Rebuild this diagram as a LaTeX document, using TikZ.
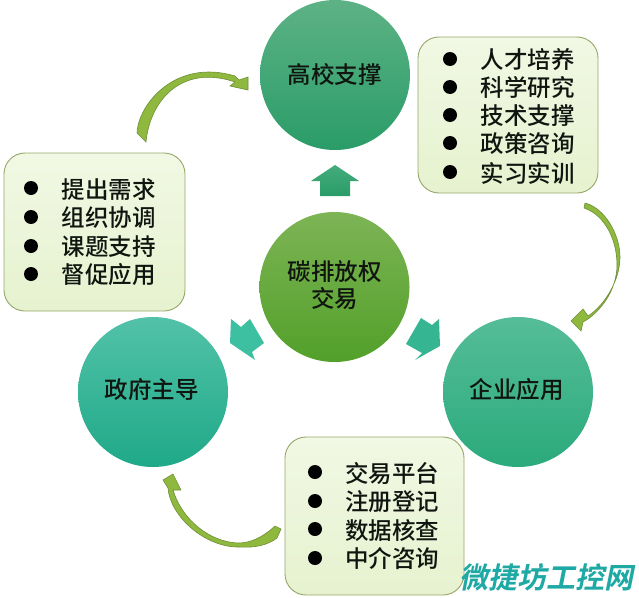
\documentclass[tikz,border=0pt]{standalone}
\usepackage{fontspec}
\setmainfont{Noto Sans CJK SC Medium}
\newfontfamily\markfont{Noto Sans CJK SC Bold}[FakeSlant=0.2]
\definecolor{boxedge}{HTML}{97A768}
\definecolor{boxtop}{HTML}{F1F8E4}
\definecolor{boxbot}{HTML}{E6F2CF}
\definecolor{curveedge}{HTML}{6E8F35}
\definecolor{curvefill}{HTML}{8FB83F}
\definecolor{inktext}{HTML}{101510}
\definecolor{schooltop}{HTML}{5DB285}
\definecolor{schoolbot}{HTML}{2A9C68}
\definecolor{centertop}{HTML}{7DB455}
\definecolor{centerbot}{HTML}{52A02A}
\definecolor{govtop}{HTML}{52C2A8}
\definecolor{govbot}{HTML}{1FA988}
\definecolor{firmtop}{HTML}{55BD98}
\definecolor{firmbot}{HTML}{2BAA7C}
\definecolor{sitemark}{HTML}{1FA9A5}
\definecolor{uptop}{HTML}{45AC7C}
\definecolor{leftarrow}{HTML}{3DBFA2}
\definecolor{rightarrow}{HTML}{35B592}
\begin{document}
\begin{tikzpicture}[x=1pt, y=-1pt, thick, 
  main/.style = {circle, minimum size=150pt, inner sep=0pt},
  caption/.style = {inner sep=0pt, align=center, text=inktext, font=\fontsize{23.5}{27}\selectfont},
  panel/.style = {draw=boxedge, line width=.9pt, rounded corners=21pt, top color=boxtop, bottom color=boxbot},
  item/.style = {inner sep=0pt, text=inktext, font=\fontsize{23.5}{24}\selectfont},
  bullet/.style = {circle, fill=black, minimum size=14pt, inner sep=0pt},
  bentarrow/.style = {draw=curveedge, line width=.6pt, fill=curvefill}]
\useasboundingbox (0,0) rectangle (639,597);
% circles
\node[main, top color=schooltop, bottom color=schoolbot] (school) at (335,75) {};
\node[main, top color=centertop, bottom color=centerbot] (center) at (334.5,287) {};
\node[main, top color=govtop, bottom color=govbot] (gov) at (153,392) {};
\node[main, top color=firmtop, bottom color=firmbot] (firm) at (518,392) {};
\node[caption] (schooltext) at (334.5,74) {高校支撑};
\node[caption] (centertext) at (334.5,285) {碳排放权\\交易};
\node[caption] (govtext) at (151.5,390) {政府主导};
\node[caption] (firmtext) at (516.5,390) {企业应用};
% panels
\draw[panel] (418,37) rectangle (598,193);
\draw[panel] (4,153) rectangle (185,311);
\draw[panel] (285,437) rectangle (464,595);
% right panel
\node[bullet] (b1) at (450,59) {}; \node[item] (t1) at (527.5,60) {人才培养};
\node[bullet] (b2) at (450,87) {}; \node[item] (t2) at (527.5,88) {科学研究};
\node[bullet] (b3) at (450,115) {}; \node[item] (t3) at (527.5,116) {技术支撑};
\node[bullet] (b4) at (450,143) {}; \node[item] (t4) at (527.5,144) {政策咨询};
\node[bullet] (b5) at (450,172) {}; \node[item] (t5) at (527.5,173) {实习实训};
% left panel
\node[bullet] (b6) at (31,188) {}; \node[item] (t6) at (108.5,190) {提出需求};
\node[bullet] (b7) at (31,217) {}; \node[item] (t7) at (108.5,218) {组织协调};
\node[bullet] (b8) at (31,246) {}; \node[item] (t8) at (108.5,247) {课题支持};
\node[bullet] (b9) at (31,274) {}; \node[item] (t9) at (108.5,275) {督促应用};
% bottom panel
\node[bullet] (b10) at (315,472) {}; \node[item] (t10) at (392,474) {交易平台};
\node[bullet] (b11) at (315,501) {}; \node[item] (t11) at (392,502) {注册登记};
\node[bullet] (b12) at (315,529) {}; \node[item] (t12) at (392,531) {数据核查};
\node[bullet] (b13) at (315,558) {}; \node[item] (t13) at (392,559) {中介咨询};
% block arrows
\path[top color=uptop, bottom color=schoolbot] (335,165) -- (359,181) -- (350,181) -- (350,196) -- (320,196) -- (320,181) -- (311,181) -- cycle;
\path[fill=leftarrow] (230,343) -- (231,319) -- (241,327) -- (250,319) -- (264,343) -- (252,352) -- (255,360) -- cycle;
\path[fill=rightarrow] (440,346) -- (439,319) -- (432,325) -- (421,318) -- (406,344) -- (422,353) -- (415,360) -- cycle;
% bent arrows
\path[bentarrow] (137,133) .. controls (138,105) and (175,58) .. (235,76) -- (239,80) -- (248,77) -- (248,90) -- (230,86) -- (235,82) .. controls (182,64) and (150,100) .. (146,142) -- cycle;
\path[bentarrow] (585,203) .. controls (605,208) and (620,235) .. (620,257) .. controls (620,280) and (605,305) .. (588,316) -- (583,309) -- (571,321) -- (581,331) -- (583,322) .. controls (600,313) and (617,290) .. (617,265) .. controls (617,240) and (605,215) .. (584,208) -- cycle;
\path[bentarrow] (281,529) -- (275,526) .. controls (262,538) and (250,543) .. (238,543) .. controls (210,542) and (182,520) .. (173,490) -- (181,490) -- (173,474) -- (163,480) -- (168,488) .. controls (170,516) and (205,548) .. (240,547) .. controls (255,548) and (268,545) .. (277,538) -- cycle;
% site mark
\node[inner sep=0pt, anchor=east, text=sitemark, font=\fontsize{29}{30}\markfont] (site) at (634,577) {微捷坊工控网};
\end{tikzpicture}
\end{document}
